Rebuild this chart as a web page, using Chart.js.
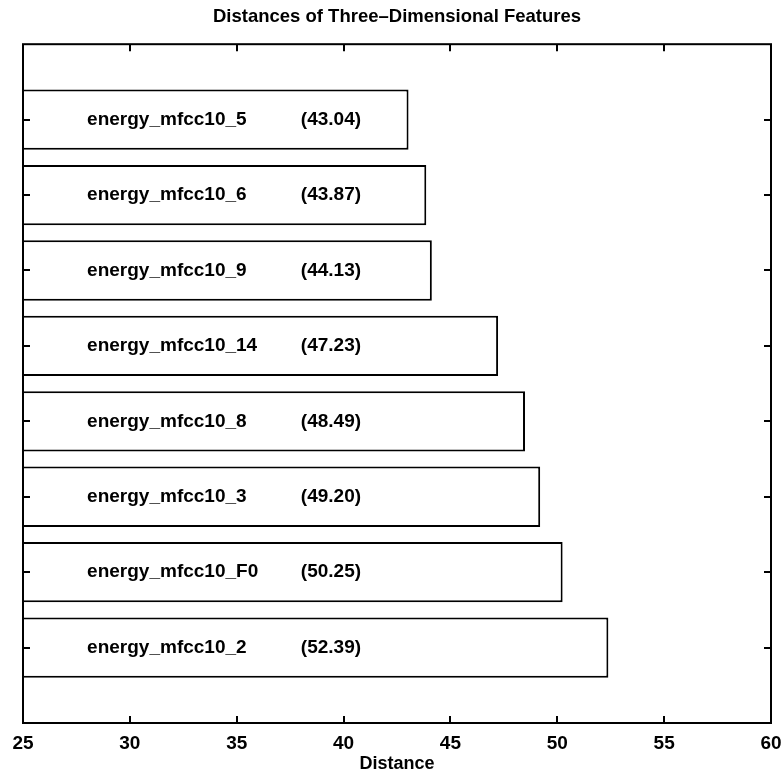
<!DOCTYPE html>
<html><head><meta charset="utf-8">
<script src="https://cdn.jsdelivr.net/npm/chart.js@4/dist/chart.umd.min.js"></script>
<style>html,body{margin:0;padding:0;background:#fff;} #wrap{width:781px;height:779px;}</style>
</head><body><div id="wrap"><canvas id="c" width="781" height="779"></canvas></div>
<script>
const categories = ['energy_mfcc10_5','energy_mfcc10_6','energy_mfcc10_9','energy_mfcc10_14','energy_mfcc10_8','energy_mfcc10_3','energy_mfcc10_F0','energy_mfcc10_2'];
const distances = [43.04, 43.87, 44.13, 47.23, 48.49, 49.20, 50.25, 52.39];
const xTicks = [25, 30, 35, 40, 45, 50, 55, 60];
const titleText = 'Distances of Three–Dimensional Features';
const xTitle = 'Distance';
const labelAtX = 28;
const valueAtX = 38;

const FONT = '"Liberation Sans", Arial, Helvetica, sans-serif';
const slot = i => categories.length - i;

const framePlugin = {
  id: 'frame',
  afterDatasetsDraw(chart) {
    const {ctx, chartArea: a, scales: {x, y}} = chart;
    ctx.save();
    ctx.fillStyle = '#000';
    ctx.font = 'bold 19px ' + FONT;
    ctx.textBaseline = 'middle';
    ctx.textAlign = 'left';
    categories.forEach((c, i) => {
      const py = y.getPixelForValue(slot(i));
      ctx.fillText(c, x.getPixelForValue(labelAtX), py);
      ctx.fillText('(' + distances[i].toFixed(2) + ')', x.getPixelForValue(valueAtX), py);
    });
    ctx.strokeStyle = '#000';
    ctx.lineWidth = 2;
    ctx.strokeRect(a.left, a.top, a.right - a.left, a.bottom - a.top);
    const L = 7;
    ctx.beginPath();
    x.ticks.forEach(t => {
      const px = Math.round(x.getPixelForValue(t.value));
      ctx.moveTo(px, a.bottom); ctx.lineTo(px, a.bottom - L);
      ctx.moveTo(px, a.top); ctx.lineTo(px, a.top + L);
    });
    y.ticks.forEach(t => {
      const py = Math.round(y.getPixelForValue(t.value));
      ctx.moveTo(a.left, py); ctx.lineTo(a.left + L, py);
      ctx.moveTo(a.right, py); ctx.lineTo(a.right - L, py);
    });
    ctx.stroke();
    ctx.restore();
  }
};

new Chart(document.getElementById('c'), {
  type: 'bar',
  data: {
    datasets: [{
      data: distances.map((v, i) => ({x: v, y: slot(i)})),
      backgroundColor: '#ffffff',
      borderColor: '#000000',
      borderWidth: 2,
      borderSkipped: false,
      barPercentage: 0.8,
      categoryPercentage: 1.0
    }]
  },
  options: {
    indexAxis: 'y',
    responsive: false,
    animation: false,
    devicePixelRatio: 1,
    layout: {padding: {left: 0, right: 0, top: 0, bottom: 0}},
    plugins: {
      legend: {display: false},
      tooltip: {enabled: false},
      title: {
        display: true,
        fullSize: false,
        text: titleText,
        color: '#000',
        font: {family: FONT, size: 18.5, weight: 'bold'},
        padding: {top: 6, bottom: 16}
      }
    },
    scales: {
      x: {
        type: 'linear',
        min: 25, max: 60,
        grid: {display: false, drawTicks: false},
        border: {display: false},
        afterBuildTicks: s => { s.ticks = xTicks.map(v => ({value: v})); },
        afterFit: s => { s.height = 56; s.paddingRight = 10; s.paddingLeft = 0; },
        ticks: {color: '#000', font: {family: FONT, size: 19, weight: 'bold'}, padding: 9},
        title: {display: true, text: xTitle, color: '#000', font: {family: FONT, size: 18, weight: 'bold'}, padding: {top: 0, bottom: 4}}
      },
      y: {
        type: 'linear',
        min: 0, max: 9,
        offset: false,
        grid: {display: false, drawTicks: false},
        border: {display: false},
        afterBuildTicks: s => { s.ticks = categories.map((c, i) => ({value: slot(i)})); },
        afterFit: s => { s.width = 23; },
        ticks: {display: false}
      }
    }
  },
  plugins: [framePlugin]
});
</script>
</body></html>
